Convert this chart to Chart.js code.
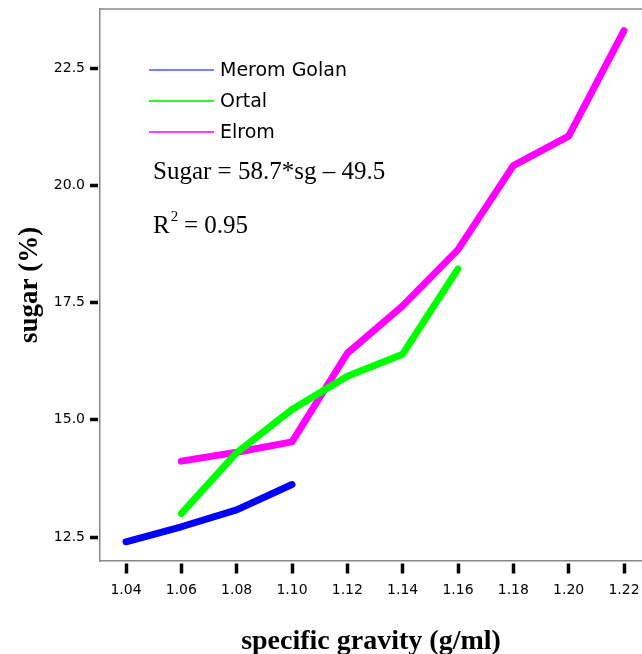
<!DOCTYPE html>
<html>
<head>
<meta charset="utf-8">
<script src="https://cdn.jsdelivr.net/npm/chart.js@4"></script>
<style>
    html, body { margin: 0; padding: 0; background: #fff; }
    #wrap { position: relative; width: 642px; height: 654px; }
</style>
</head>
<body>
<div id="wrap"><canvas id="sugarChart" width="642" height="654"></canvas></div>
<script>
// data
const seriesNames = ["Merom Golan", "Ortal", "Elrom"];
const meromSg = [1.04, 1.06, 1.08, 1.10];
const meromSugar = [12.4, 12.72, 13.08, 13.62];
const ortalSg = [1.06, 1.08, 1.10, 1.12, 1.14, 1.16];
const ortalSugar = [13.0, 14.3, 15.22, 15.93, 16.4, 18.22];
const elromSg = [1.06, 1.08, 1.10, 1.12, 1.14, 1.16, 1.18, 1.20, 1.22];
const elromSugar = [14.12, 14.31, 14.53, 16.42, 17.43, 18.63, 20.42, 21.05, 23.3];
const xTicks = [1.04, 1.06, 1.08, 1.10, 1.12, 1.14, 1.16, 1.18, 1.20, 1.22];
const yTicks = [12.5, 15.0, 17.5, 20.0, 22.5];
const equationText = "Sugar = 58.7*sg \u2013 49.5";
const r2Value = "0.95";

const blue = 'rgb(0, 0, 255)';
const green = 'rgb(0, 255, 0)';
const magenta = 'rgb(255, 0, 255)';
const lightblue = 'rgb(125, 125, 255)';
const lightgreen = 'rgb(40, 255, 40)';
const lightmagenta = 'rgb(255, 60, 255)';

const sansFont = '"DejaVu Sans", Verdana, sans-serif';
const serifFont = '"Liberation Serif", "Times New Roman", serif';

function toPoints(xs, ys) {
    return xs.map((x, i) => ({ x: x, y: ys[i] }));
}

function lineSet(name, xs, ys, color, legendColor) {
    return {
        label: name,
        data: toPoints(xs, ys),
        borderColor: color,
        backgroundColor: color,
        legendColor: legendColor,
        borderWidth: 7,
        borderCapStyle: 'round',
        borderJoinStyle: 'round',
        pointRadius: 0,
        tension: 0,
        fill: false
    };
}

// legend, equation and top frame line drawn inside the plot
const annotations = {
    id: 'annotations',
    afterDraw(chart) {
        const ctx = chart.ctx;
        const area = chart.chartArea;
        ctx.save();

        // top frame
        ctx.strokeStyle = '#888';
        ctx.lineWidth = 1.5;
        ctx.beginPath();
        ctx.moveTo(area.left, area.top);
        ctx.lineTo(area.right, area.top);
        ctx.stroke();

        // legend
        ctx.font = '19px ' + sansFont;
        ctx.textBaseline = 'middle';
        ctx.fillStyle = '#000';
        chart.data.datasets.forEach((ds, i) => {
            const y = area.top + 61 + i * 31;
            ctx.strokeStyle = ds.legendColor;
            ctx.lineWidth = 2;
            ctx.beginPath();
            ctx.moveTo(area.left + 49, y);
            ctx.lineTo(area.left + 114, y);
            ctx.stroke();
            ctx.fillText(ds.label, area.left + 120, y + 1);
        });

        // regression text
        ctx.textBaseline = 'alphabetic';
        ctx.font = '25px ' + serifFont;
        ctx.fillText(equationText, area.left + 53, area.top + 170);
        ctx.fillText('R', area.left + 53, area.top + 224);
        const rw = ctx.measureText('R').width;
        ctx.font = '15px ' + serifFont;
        ctx.fillText('2', area.left + 53 + rw + 1, area.top + 212);
        ctx.font = '25px ' + serifFont;
        ctx.fillText(' = ' + r2Value, area.left + 53 + rw + 8, area.top + 224);
        ctx.restore();
    }
};

let sugarChart = new Chart("sugarChart", {
    type: "line",
    data: {
        datasets: [
            lineSet(seriesNames[0], meromSg, meromSugar, blue, lightblue),
            lineSet(seriesNames[1], ortalSg, ortalSugar, green, lightgreen),
            lineSet(seriesNames[2], elromSg, elromSugar, magenta, lightmagenta)
        ]
    },
    plugins: [annotations],
    options: {
        responsive: false,
        animation: false,
        layout: { padding: { top: 9, right: 0, left: 0, bottom: 0 } },
        plugins: {
            legend: { display: false },
            tooltip: { enabled: false }
        },
        scales: {
            x: {
                type: 'linear',
                min: 1.0306,
                max: 1.2265,
                afterBuildTicks: function (scale) {
                    scale.ticks = xTicks.map(v => ({ value: v }));
                },
                afterFit: function (scale) {
                    scale.height = 93;
                    scale.paddingLeft = 0;
                    scale.paddingRight = 0;
                },
                border: { color: '#888', width: 1.5 },
                grid: {
                    drawOnChartArea: false,
                    drawTicks: true,
                    tickLength: 13,
                    tickWidth: 3.5,
                    tickColor: '#000',
                    // tick lines start at the frame: leave a small gap first
                    tickBorderDash: [10, 2],
                    tickBorderDashOffset: 10
                },
                ticks: {
                    color: '#000',
                    padding: 8,
                    maxRotation: 0,
                    autoSkip: false,
                    font: { family: sansFont, size: 14 },
                    callback: v => Number(v).toFixed(2)
                },
                title: {
                    display: true,
                    text: 'specific gravity (g/ml)',
                    color: '#000',
                    padding: { top: 0, bottom: 0 },
                    font: { family: serifFont, size: 28, weight: 'bold', lineHeight: 0.9 }
                }
            },
            y: {
                min: 11.99,
                max: 23.76,
                afterBuildTicks: function (scale) {
                    scale.ticks = yTicks.map(v => ({ value: v }));
                },
                afterFit: function (scale) {
                    scale.width = 100;
                    scale.paddingTop = 0;
                    scale.paddingBottom = 0;
                },
                border: { color: '#888', width: 1.5 },
                grid: {
                    drawOnChartArea: false,
                    drawTicks: true,
                    tickLength: 10,
                    tickWidth: 3.5,
                    tickColor: '#000',
                    // left ticks are drawn from the outer end towards the frame
                    tickBorderDash: [8, 2],
                    tickBorderDashOffset: 0
                },
                ticks: {
                    color: '#000',
                    padding: 5,
                    autoSkip: false,
                    font: { family: sansFont, size: 14 },
                    callback: v => Number(v).toFixed(1)
                },
                title: {
                    display: true,
                    text: 'sugar (%)',
                    color: '#000',
                    padding: { top: 14, bottom: 0 },
                    font: { family: serifFont, size: 27, weight: 'bold', lineHeight: 1.2 }
                }
            }
        }
    }
});
</script>
</body>
</html>
